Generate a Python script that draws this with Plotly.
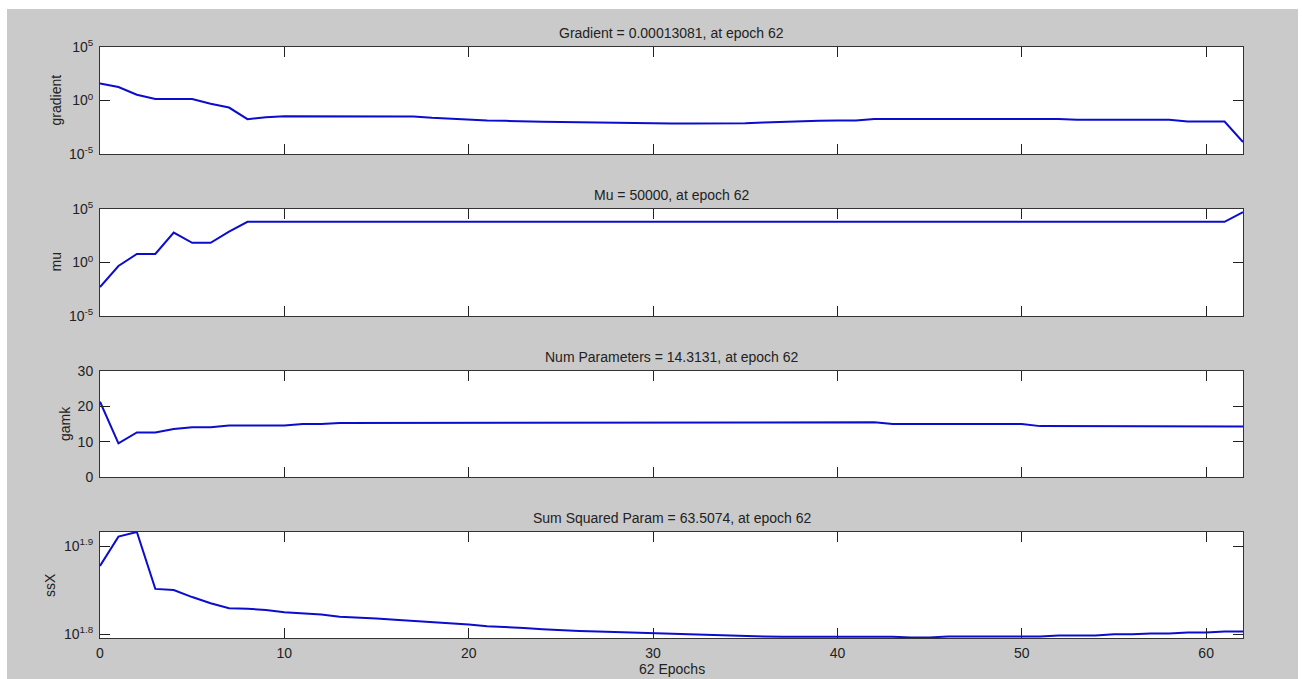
import plotly.graph_objects as go

epochs = list(range(63))

gradient = [40, 18, 3.5, 1.4, 1.4, 1.35, 0.5, 0.22, 0.018, 0.027,
            0.033, 0.033, 0.033, 0.033, 0.033, 0.033, 0.033, 0.032, 0.024, 0.019,
            0.0166, 0.0138, 0.0126, 0.011, 0.0105, 0.01, 0.0089, 0.0085, 0.0083, 0.0079,
            0.0071, 0.0069, 0.0069, 0.0069, 0.0069, 0.0076, 0.0089, 0.0105, 0.0112, 0.0126,
            0.0135, 0.0135, 0.019, 0.019, 0.019, 0.019, 0.019, 0.019, 0.019, 0.019,
            0.019, 0.019, 0.019, 0.0158, 0.0158, 0.0158, 0.0158, 0.0158, 0.0158, 0.011,
            0.011, 0.011, 0.00013081]

mu = [0.005, 0.47, 6.2, 6.2, 620, 70, 70, 760] + [6300] * 54 + [50000]

gamk = [21.3, 9.5, 12.6, 12.6, 13.6, 14.1, 14.1, 14.6, 14.6, 14.6,
        14.6, 15.0, 15.0, 15.3, 15.3, 15.3, 15.3, 15.5, 15.5, 15.5,
        15.5, 15.5, 15.5, 15.5, 15.5, 15.5, 15.5, 15.5, 15.5, 15.5,
        15.5, 15.5, 15.5, 15.5, 15.5, 15.5, 15.5, 15.5, 15.5, 15.5,
        15.5, 15.5, 15.5, 15.0, 15.0, 15.0, 15.0, 15.0, 15.0, 15.0,
        15.0, 14.4, 14.4, 14.4, 14.4, 14.4, 14.4, 14.4, 14.4, 14.4,
        14.4, 14.4, 14.3131]

ssx = [75.4, 81.4, 82.4, 71.0, 70.8, 69.5, 68.4, 67.5, 67.4, 67.2,
       66.8, 66.6, 66.4, 66.0, 65.9, 65.7, 65.5, 65.3, 65.1, 65.0,
       64.7, 64.4, 64.3, 64.1, 63.9, 63.7, 63.6, 63.5, 63.4, 63.3,
       63.2, 63.1, 63.05, 62.9, 62.8, 62.7, 62.7, 62.65, 62.66, 62.66,
       62.66, 62.66, 62.66, 62.66, 62.54, 62.54, 62.7, 62.7, 62.7, 62.7,
       62.7, 62.7, 62.87, 62.87, 62.87, 63.05, 63.05, 63.2, 63.2, 63.35,
       63.35, 63.5, 63.5074]

titles = ["Gradient = 0.00013081, at epoch 62",
          "Mu = 50000, at epoch 62",
          "Num Parameters = 14.3131, at epoch 62",
          "Sum Squared Param = 63.5074, at epoch 62"]
ylabels = ["gradient", "mu", "gamk", "ssX"]
xlabel = "62 Epochs"
xticks = [0, 10, 20, 30, 40, 50, 60]
log_ticks = [1e-5, 1, 1e5]
log_ticktext = ["10<sup>-5</sup>", "10<sup>0</sup>", "10<sup>5</sup>"]
gamk_ticks = [0, 10, 20, 30]
ssx_ticks = [10 ** 1.8, 10 ** 1.9]
ssx_ticktext = ["10<sup>1.8</sup>", "10<sup>1.9</sup>"]

W, H = 1302, 679
FONT = "Liberation Sans, Arial, sans-serif"
FS = 14
TXT = "#222222"
LINE = "rgb(12,12,205)"
GREY = "#cacaca"

# pixel geometry (page coords)
x0, x1 = 100, 1243
panels = [(47, 154), (209, 316), (371, 477), (532, 638)]
label_x = [55, 55, 65, 50]


def ydom(top, bot):
    return [1 - bot / H, 1 - top / H]


fig = go.Figure()
series = [gradient, mu, gamk, ssx]
for i, s in enumerate(series):
    fig.add_trace(go.Scatter(x=epochs, y=s, mode="lines",
                             line=dict(color=LINE, width=2),
                             xaxis="x" if i == 0 else f"x{i+1}",
                             yaxis="y" if i == 0 else f"y{i+1}",
                             showlegend=False, hoverinfo="x+y"))

layout = dict(width=W, height=H, margin=dict(l=0, r=0, t=0, b=0, autoexpand=False),
              paper_bgcolor=GREY, plot_bgcolor="white",
              font=dict(family=FONT, size=FS, color=TXT),
              showlegend=False)

axis_common = dict(showline=True, linecolor="#333333", linewidth=1, mirror="ticks",
                   ticks="inside", ticklen=10, tickwidth=1, tickcolor="#222222",
                   showgrid=False, zeroline=False, automargin=False,
                   tickfont=dict(family=FONT, size=FS, color=TXT))

annotations = []
for i in range(4):
    top, bot = panels[i]
    xn = "xaxis" if i == 0 else f"xaxis{i+1}"
    yn = "yaxis" if i == 0 else f"yaxis{i+1}"
    ya = "y" if i == 0 else f"y{i+1}"
    xa = "x" if i == 0 else f"x{i+1}"
    layout[xn] = dict(axis_common, domain=[x0 / W, x1 / W], range=[0, 62],
                      tickvals=xticks, anchor=ya, ticklabelstandoff=2,
                      showticklabels=(i == 3))
    if i in (0, 1):
        layout[yn] = dict(axis_common, domain=ydom(top, bot), type="log",
                          range=[-5, 5], tickvals=log_ticks, ticktext=log_ticktext,
                          anchor=xa, ticklabelstandoff=3)
    elif i == 2:
        layout[yn] = dict(axis_common, domain=ydom(top, bot), range=[0, 30],
                          tickvals=gamk_ticks, anchor=xa, ticklabelstandoff=3)
    else:
        layout[yn] = dict(axis_common, domain=ydom(top, bot), type="log",
                          range=[1.7955, 1.9159], tickvals=ssx_ticks,
                          ticktext=ssx_ticktext, anchor=xa, ticklabelstandoff=3)
    annotations.append(dict(text=titles[i], xref="paper", yref="paper",
                            x=(x0 + x1) / 2 / W, y=1 - top / H, yanchor="bottom",
                            xanchor="center", yshift=4, showarrow=False,
                            font=dict(family=FONT, size=FS, color=TXT)))
    annotations.append(dict(text=ylabels[i], xref="paper", yref="paper",
                            x=label_x[i] / W, y=1 - (top + bot) / 2 / H,
                            xanchor="center", yanchor="middle", textangle=-90,
                            showarrow=False,
                            font=dict(family=FONT, size=FS, color=TXT)))

annotations.append(dict(text=xlabel, xref="paper", yref="paper",
                        x=(x0 + x1) / 2 / W, y=1 - 669 / H, xanchor="center",
                        yanchor="middle", showarrow=False,
                        font=dict(family=FONT, size=FS, color=TXT)))
layout["annotations"] = annotations

# white page border around the grey figure window
border = dict(type="rect", xref="paper", yref="paper", fillcolor="white",
              line=dict(width=0), layer="above")
layout["shapes"] = [
    dict(border, x0=0, x1=1, y0=1 - 9 / H, y1=1),
    dict(border, x0=0, x1=7 / W, y0=0, y1=1),
    dict(border, x0=1298 / W, x1=1, y0=0, y1=1),
]

fig.update_layout(**layout)
fig.write_html("out.html",
               config={"displayModeBar": False},
               post_script="document.body.style.margin='0';"
                           "document.body.style.overflow='hidden';")
